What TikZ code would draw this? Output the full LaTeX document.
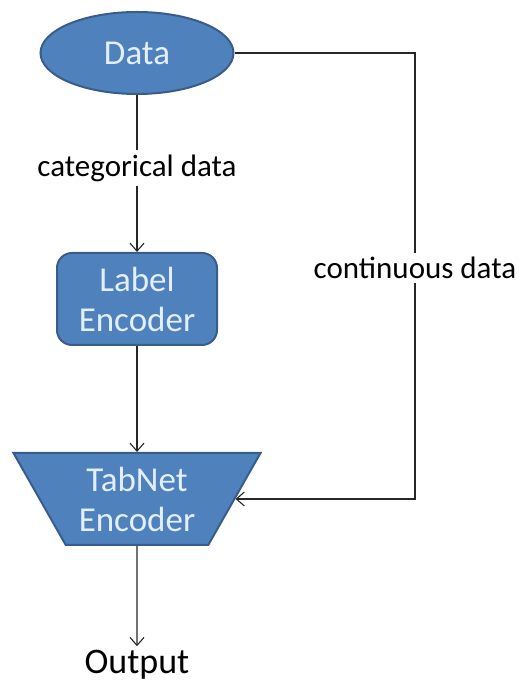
\documentclass[tikz,border=0pt]{standalone}
\usepackage{fontspec}
\setmainfont{Carlito}
\usetikzlibrary{shapes,arrows,arrows.meta,positioning,calc}
\definecolor{boxfill}{HTML}{4F81BD}
\definecolor{boxline}{HTML}{385D8A}
\definecolor{boxtext}{HTML}{E2EEFA}
\newcommand{\lfont}{\fontsize{31}{36}\selectfont}
\newcommand{\bfont}{\fontsize{35}{40}\selectfont}
\tikzset{
  blk/.style={fill=boxfill,draw=boxline,line width=2pt,text=boxtext,align=center,font=\bfont,inner sep=0pt},
  lbl/.style={font=\lfont,inner sep=4pt},
  conn/.style={line width=1.1pt,draw=black!85}
}

\begin{document}
\begin{tikzpicture}[x=1pt,y=1pt,>={Straight Barb[length=8pt,width=14pt]}]
  \useasboundingbox (0,0) rectangle (521,684);

  \node[blk,ellipse,minimum width=193pt,minimum height=82pt] (data) at (137,631) {Data};
  \node[lbl] (cat) at (137,516) {categorical data};
  \node[blk,rounded corners=15pt,minimum width=160pt,minimum height=92pt] (lenc) at (137,385) {Label\\Encoder};
  \node[blk,trapezium,trapezium left angle=51,trapezium right angle=51,shape border rotate=180,
        trapezium stretches body,minimum width=247pt,minimum height=92pt] (tabnet) at (137,185) {TabNet\\Encoder};
  \node[lbl,font=\fontsize{36}{40}\selectfont] (out) at (137,19) {Output};

  \coordinate (corner) at (415,631);
  \node[lbl] (cont) at (415,416) {continuous data};

  \draw[conn] (data) -- (cat);
  \draw[conn,->] (cat) -- (lenc);
  \draw[conn,->] (lenc) -- (tabnet);
  \draw[conn,->] (tabnet) -- (out);
  \draw[conn] (data.east) -- (corner) -- (cont);
  \draw[conn,->] (cont) -- (cont |- tabnet.east) -- (tabnet.east);
\end{tikzpicture}
\end{document}
